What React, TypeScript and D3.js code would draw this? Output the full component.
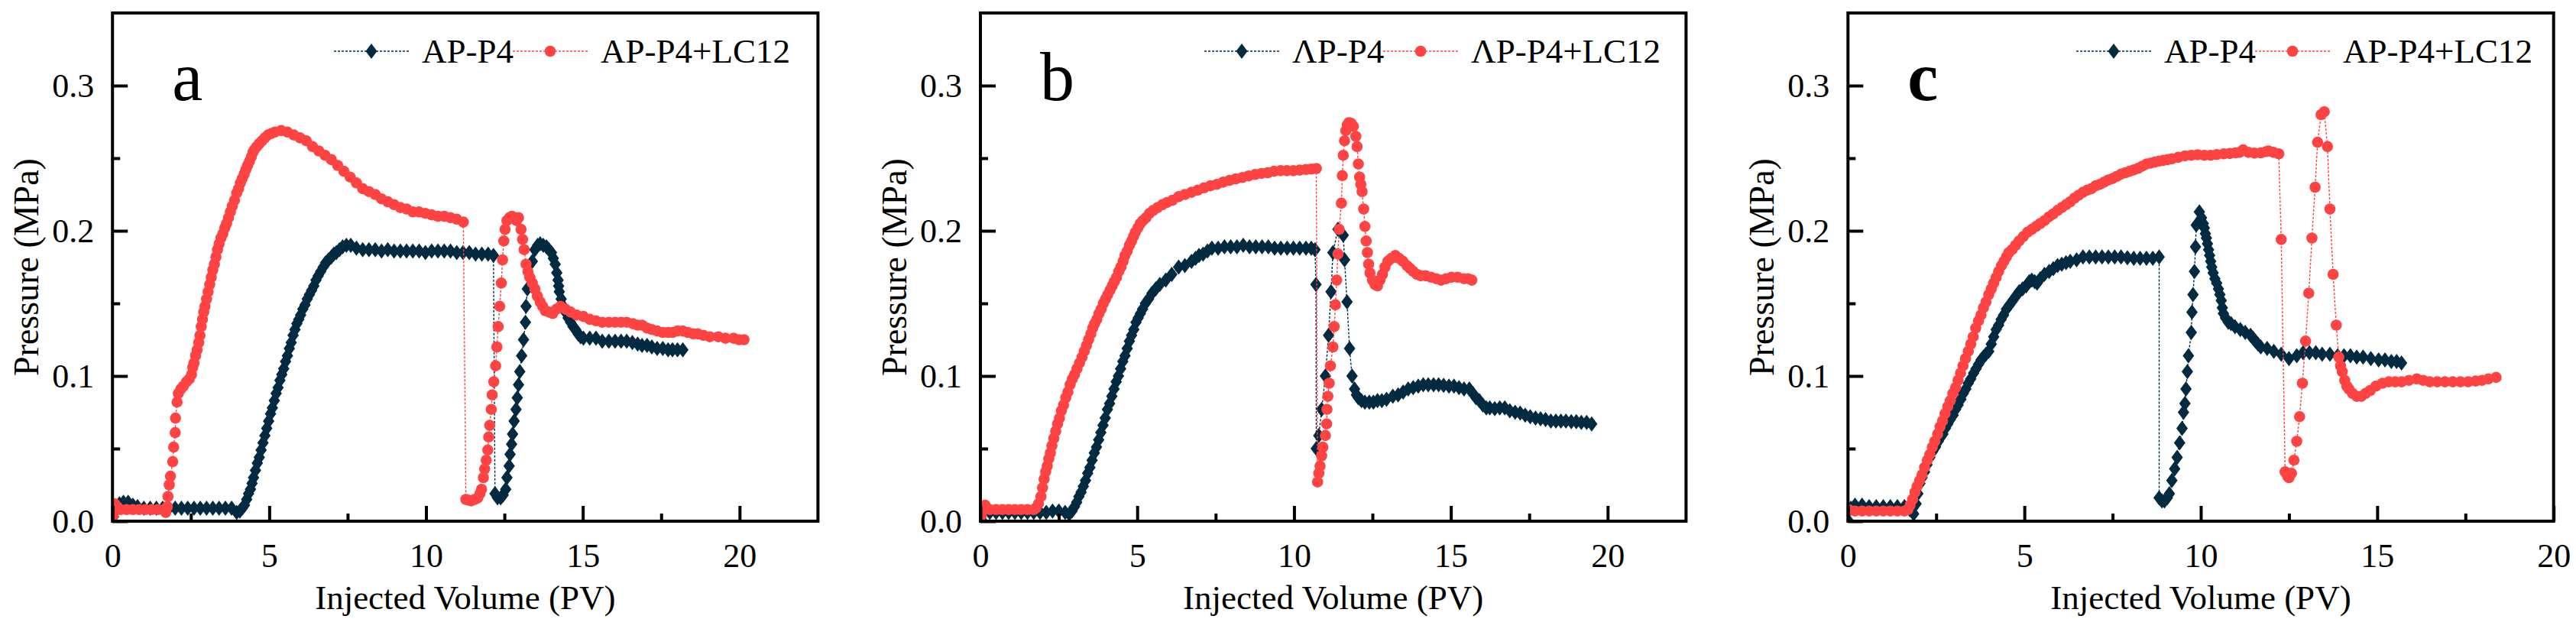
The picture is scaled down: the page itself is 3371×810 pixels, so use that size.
import React, { useEffect, useRef } from 'react';
import * as d3 from 'd3';

type Pt = [number, number];

// ---- panel a ----
const aP4: Pt[] = [
  [0.03, 0.003], [0.1, 0.01], [0.22, 0.012], [0.35, 0.013], [0.5, 0.013], [0.65, 0.011], [0.8, 0.01], [1.0, 0.009],
  [1.2, 0.009], [1.4, 0.009], [1.6, 0.009], [1.8, 0.009], [2.0, 0.009], [2.2, 0.009], [2.4, 0.009], [2.6, 0.009],
  [2.8, 0.009], [3.0, 0.009], [3.2, 0.009], [3.4, 0.009], [3.6, 0.009], [3.8, 0.009], [3.96, 0.006], [4.06, 0.007],
  [4.14, 0.009], [4.21, 0.011], [4.28, 0.015], [4.34, 0.019], [4.4, 0.022], [4.45, 0.026], [4.5, 0.03], [4.56, 0.035],
  [4.62, 0.04], [4.68, 0.044], [4.74, 0.049], [4.8, 0.054], [4.86, 0.059], [4.92, 0.064], [4.98, 0.069], [5.04, 0.074],
  [5.1, 0.078], [5.16, 0.083], [5.22, 0.088], [5.28, 0.092], [5.34, 0.097], [5.4, 0.101], [5.46, 0.105], [5.52, 0.11],
  [5.58, 0.114], [5.64, 0.119], [5.7, 0.123], [5.76, 0.128], [5.82, 0.132], [5.88, 0.136], [5.94, 0.139], [6.0, 0.142],
  [6.07, 0.146], [6.14, 0.149], [6.21, 0.153], [6.28, 0.156], [6.35, 0.159], [6.42, 0.162], [6.49, 0.166], [6.56, 0.169],
  [6.64, 0.172], [6.72, 0.175], [6.8, 0.178], [6.89, 0.18], [6.98, 0.182], [7.06, 0.184], [7.14, 0.185], [7.24, 0.187],
  [7.34, 0.189], [7.46, 0.19], [7.6, 0.19], [7.78, 0.188], [7.98, 0.187], [8.18, 0.187], [8.38, 0.187], [8.58, 0.186],
  [8.78, 0.187], [8.98, 0.186], [9.18, 0.186], [9.38, 0.186], [9.58, 0.186], [9.78, 0.186], [9.98, 0.185], [10.18, 0.186],
  [10.38, 0.186], [10.58, 0.186], [10.78, 0.186], [10.98, 0.185], [11.18, 0.185], [11.38, 0.185], [11.58, 0.184],
  [11.78, 0.184], [11.98, 0.184], [12.15, 0.183],
  [12.2, 0.019], [12.28, 0.016], [12.38, 0.016], [12.46, 0.018], [12.54, 0.022], [12.58, 0.03], [12.65, 0.038],
  [12.68, 0.046], [12.73, 0.053], [12.76, 0.06], [12.81, 0.069], [12.87, 0.077], [12.91, 0.085], [12.95, 0.094],
  [12.99, 0.103], [13.05, 0.114], [13.11, 0.125], [13.17, 0.137], [13.19, 0.148], [13.23, 0.16], [13.31, 0.168],
  [13.39, 0.179], [13.47, 0.187], [13.56, 0.19], [13.64, 0.191], [13.74, 0.19], [13.84, 0.189], [13.92, 0.187],
  [14.0, 0.185], [14.06, 0.181], [14.12, 0.177], [14.17, 0.171], [14.21, 0.166], [14.23, 0.162], [14.25, 0.158],
  [14.31, 0.153], [14.37, 0.148], [14.45, 0.144], [14.53, 0.14], [14.61, 0.137], [14.69, 0.134], [14.77, 0.132],
  [14.85, 0.129], [14.93, 0.127], [15.02, 0.126], [15.22, 0.126], [15.42, 0.126], [15.62, 0.124], [15.83, 0.124],
  [16.03, 0.124], [16.22, 0.124], [16.4, 0.124], [16.58, 0.123], [16.75, 0.122], [16.89, 0.121], [17.05, 0.121],
  [17.2, 0.12], [17.37, 0.119], [17.55, 0.119], [17.72, 0.118], [17.86, 0.118], [18.02, 0.118], [18.19, 0.118],
];

const aP4LC: Pt[] = [
  [0.02, 0.004], [0.07, 0.012], [0.15, 0.01], [0.25, 0.008], [0.45, 0.008], [0.65, 0.008], [0.85, 0.008], [1.05, 0.008],
  [1.25, 0.008], [1.45, 0.008], [1.65, 0.008], [1.7, 0.006], [1.75, 0.01], [1.77, 0.017], [1.81, 0.025], [1.85, 0.031],
  [1.92, 0.041], [1.95, 0.051], [2.0, 0.061], [2.01, 0.071], [2.06, 0.082], [2.1, 0.088], [2.18, 0.091], [2.26, 0.093],
  [2.36, 0.096], [2.45, 0.098], [2.52, 0.101], [2.56, 0.106], [2.6, 0.109], [2.65, 0.114], [2.7, 0.118], [2.75, 0.123],
  [2.79, 0.128], [2.83, 0.134], [2.87, 0.139], [2.91, 0.144], [2.95, 0.148], [3.0, 0.153], [3.05, 0.158], [3.1, 0.163],
  [3.15, 0.168], [3.2, 0.173], [3.25, 0.177], [3.3, 0.182], [3.35, 0.187], [3.4, 0.191], [3.46, 0.195], [3.52, 0.198],
  [3.58, 0.202], [3.64, 0.205], [3.7, 0.209], [3.76, 0.213], [3.82, 0.217], [3.89, 0.221], [3.96, 0.226], [4.02, 0.229],
  [4.08, 0.233], [4.14, 0.236], [4.2, 0.239], [4.25, 0.242], [4.31, 0.245], [4.37, 0.248], [4.43, 0.251], [4.48, 0.254],
  [4.53, 0.256], [4.6, 0.258], [4.68, 0.26], [4.77, 0.262], [4.86, 0.264], [4.96, 0.266], [5.07, 0.267], [5.18, 0.268],
  [5.38, 0.269], [5.58, 0.268], [5.78, 0.266], [5.98, 0.264], [6.18, 0.262], [6.38, 0.258], [6.58, 0.255], [6.78, 0.252],
  [6.98, 0.249], [7.18, 0.245], [7.38, 0.241], [7.58, 0.237], [7.78, 0.233], [7.98, 0.229], [8.18, 0.227], [8.38, 0.225],
  [8.58, 0.222], [8.78, 0.22], [8.98, 0.218], [9.18, 0.216], [9.38, 0.215], [9.58, 0.213], [9.78, 0.213], [9.98, 0.212],
  [10.18, 0.211], [10.38, 0.21], [10.58, 0.21], [10.78, 0.209], [10.98, 0.208], [11.19, 0.206],
  [11.27, 0.015], [11.35, 0.0145], [11.44, 0.014], [11.55, 0.015], [11.65, 0.016], [11.72, 0.019], [11.77, 0.022],
  [11.83, 0.03], [11.87, 0.036], [11.92, 0.042], [11.97, 0.049], [12.0, 0.058], [12.03, 0.066], [12.08, 0.077],
  [12.11, 0.087], [12.16, 0.096], [12.22, 0.107], [12.26, 0.12], [12.3, 0.134], [12.35, 0.148], [12.4, 0.164],
  [12.44, 0.18], [12.48, 0.193], [12.52, 0.201], [12.58, 0.207], [12.66, 0.209], [12.74, 0.21], [12.82, 0.209],
  [12.88, 0.207], [12.95, 0.209], [13.03, 0.201], [13.08, 0.194], [13.13, 0.187], [13.19, 0.177], [13.25, 0.172],
  [13.31, 0.168], [13.39, 0.164], [13.47, 0.16], [13.55, 0.155], [13.64, 0.151], [13.72, 0.148], [13.8, 0.145],
  [13.92, 0.144], [14.04, 0.143], [14.16, 0.146], [14.29, 0.148], [14.45, 0.146], [14.61, 0.144], [14.8, 0.142],
  [15.02, 0.141], [15.22, 0.139], [15.42, 0.138], [15.62, 0.137], [15.83, 0.137], [16.03, 0.137], [16.22, 0.137],
  [16.4, 0.137], [16.6, 0.136], [16.75, 0.135], [16.89, 0.135], [17.05, 0.133], [17.2, 0.132], [17.37, 0.131],
  [17.55, 0.13], [17.72, 0.13], [17.86, 0.13], [18.02, 0.131], [18.19, 0.131], [18.35, 0.13], [18.52, 0.129],
  [18.67, 0.129], [18.85, 0.128], [19.05, 0.127], [19.32, 0.127], [19.55, 0.126], [19.81, 0.126], [19.98, 0.125],
  [20.14, 0.125],
];

// ---- panel b ----
const bP4: Pt[] = [
  [0.03, 0.001], [0.1, 0.006], [0.3, 0.006], [0.5, 0.006], [0.7, 0.006], [0.9, 0.006], [1.1, 0.006], [1.3, 0.006],
  [1.5, 0.006], [1.7, 0.006], [1.9, 0.006], [2.1, 0.006], [2.3, 0.007], [2.5, 0.007], [2.7, 0.006], [2.83, 0.005],
  [2.92, 0.007], [3.0, 0.01], [3.07, 0.013], [3.14, 0.017], [3.21, 0.02], [3.28, 0.024], [3.35, 0.028], [3.42, 0.033],
  [3.49, 0.037], [3.56, 0.042], [3.63, 0.047], [3.7, 0.051], [3.77, 0.056], [3.84, 0.061], [3.91, 0.066], [3.98, 0.071],
  [4.05, 0.077], [4.12, 0.081], [4.19, 0.086], [4.26, 0.091], [4.33, 0.096], [4.4, 0.1], [4.47, 0.105], [4.54, 0.11],
  [4.61, 0.114], [4.68, 0.119], [4.75, 0.124], [4.82, 0.128], [4.89, 0.132], [4.96, 0.137], [5.03, 0.14], [5.1, 0.143],
  [5.17, 0.146], [5.26, 0.15], [5.36, 0.153], [5.47, 0.157], [5.59, 0.16], [5.72, 0.163], [5.91, 0.166], [6.1, 0.17],
  [6.32, 0.175], [6.52, 0.176], [6.73, 0.179], [6.86, 0.181], [6.97, 0.183], [7.1, 0.184], [7.24, 0.186], [7.38, 0.188],
  [7.58, 0.188], [7.78, 0.189], [7.98, 0.189], [8.18, 0.189], [8.38, 0.19], [8.58, 0.189], [8.78, 0.189], [8.98, 0.189],
  [9.18, 0.189], [9.38, 0.188], [9.58, 0.188], [9.78, 0.188], [9.98, 0.188], [10.18, 0.188], [10.38, 0.188],
  [10.55, 0.188], [10.67, 0.187],
  [10.7, 0.163], [10.71, 0.05], [10.79, 0.059], [10.88, 0.077], [11.0, 0.1], [11.1, 0.128], [11.18, 0.158],
  [11.24, 0.185], [11.4, 0.201], [11.57, 0.197], [11.61, 0.18], [11.69, 0.151], [11.77, 0.119], [11.85, 0.1],
  [11.93, 0.091], [11.99, 0.087], [12.05, 0.085], [12.15, 0.083], [12.26, 0.082], [12.4, 0.082], [12.53, 0.082],
  [12.66, 0.083], [12.8, 0.083], [12.95, 0.084], [13.15, 0.086], [13.32, 0.087], [13.48, 0.089], [13.64, 0.091],
  [13.8, 0.092], [13.96, 0.093], [14.12, 0.094], [14.28, 0.094], [14.45, 0.094], [14.61, 0.094], [14.77, 0.0935],
  [14.94, 0.093], [15.1, 0.093], [15.26, 0.092], [15.42, 0.091], [15.59, 0.091], [15.7, 0.088], [15.8, 0.085],
  [15.91, 0.083], [16.02, 0.08], [16.13, 0.078], [16.24, 0.078], [16.4, 0.0775], [16.56, 0.078], [16.72, 0.078],
  [16.88, 0.076], [17.05, 0.075], [17.21, 0.0745], [17.37, 0.073], [17.53, 0.072], [17.7, 0.071], [17.86, 0.0705],
  [18.02, 0.07], [18.19, 0.069], [18.35, 0.069], [18.51, 0.069], [18.67, 0.069], [18.84, 0.0686], [19.0, 0.0685],
  [19.16, 0.068], [19.33, 0.068], [19.49, 0.067],
];

const bP4LC: Pt[] = [
  [0.03, 0.004], [0.08, 0.01], [0.15, 0.011], [0.3, 0.008], [0.5, 0.008], [0.7, 0.008], [0.9, 0.008], [1.1, 0.008],
  [1.3, 0.008], [1.5, 0.008], [1.7, 0.008], [1.77, 0.009], [1.85, 0.012], [1.93, 0.017], [1.98, 0.023], [2.03, 0.029],
  [2.08, 0.034], [2.13, 0.038], [2.18, 0.043], [2.23, 0.047], [2.28, 0.052], [2.34, 0.057], [2.4, 0.062], [2.46, 0.067],
  [2.52, 0.071], [2.58, 0.076], [2.65, 0.08], [2.72, 0.085], [2.79, 0.089], [2.86, 0.094], [2.93, 0.098], [3.0, 0.101],
  [3.08, 0.105], [3.16, 0.109], [3.24, 0.113], [3.31, 0.117], [3.38, 0.121], [3.45, 0.125], [3.52, 0.129], [3.58, 0.133],
  [3.64, 0.136], [3.71, 0.139], [3.78, 0.143], [3.85, 0.146], [3.92, 0.15], [3.99, 0.153], [4.06, 0.156], [4.13, 0.159],
  [4.2, 0.162], [4.27, 0.165], [4.34, 0.168], [4.41, 0.172], [4.48, 0.175], [4.55, 0.179], [4.61, 0.183], [4.68, 0.186],
  [4.75, 0.19], [4.82, 0.193], [4.88, 0.196], [4.94, 0.199], [5.02, 0.202], [5.1, 0.205], [5.18, 0.207], [5.28, 0.209],
  [5.39, 0.212], [5.51, 0.214], [5.65, 0.216], [5.8, 0.218], [5.95, 0.2195], [6.12, 0.221], [6.32, 0.2235],
  [6.52, 0.225], [6.73, 0.2265], [6.93, 0.228], [7.13, 0.2296], [7.33, 0.231], [7.54, 0.232], [7.74, 0.2335],
  [7.94, 0.2347], [8.14, 0.2357], [8.35, 0.2367], [8.55, 0.2378], [8.76, 0.2388], [8.96, 0.2395], [9.16, 0.24],
  [9.36, 0.241], [9.57, 0.2414], [9.77, 0.2414], [9.98, 0.2414], [10.18, 0.2418], [10.38, 0.2422], [10.55, 0.2425],
  [10.71, 0.2429],
  [10.75, 0.027], [10.79, 0.033], [10.83, 0.038], [10.88, 0.045], [10.92, 0.051], [11.0, 0.059], [11.04, 0.067],
  [11.05, 0.077], [11.08, 0.086], [11.12, 0.095], [11.16, 0.107], [11.24, 0.12], [11.28, 0.134], [11.32, 0.149],
  [11.36, 0.166], [11.4, 0.184], [11.44, 0.201], [11.51, 0.219], [11.54, 0.238], [11.57, 0.252], [11.61, 0.262],
  [11.65, 0.269], [11.7, 0.273], [11.75, 0.2745], [11.82, 0.274], [11.89, 0.272], [11.97, 0.265], [12.01, 0.258],
  [12.05, 0.246], [12.09, 0.237], [12.13, 0.232], [12.17, 0.227], [12.22, 0.215], [12.26, 0.203], [12.3, 0.193],
  [12.34, 0.185], [12.38, 0.177], [12.42, 0.171], [12.5, 0.166], [12.58, 0.163], [12.66, 0.162], [12.74, 0.166],
  [12.82, 0.17], [12.9, 0.175], [12.99, 0.179], [13.1, 0.181], [13.23, 0.183], [13.35, 0.181], [13.47, 0.179],
  [13.6, 0.176], [13.7, 0.174], [13.8, 0.172], [13.92, 0.17], [14.04, 0.169], [14.2, 0.169], [14.37, 0.168],
  [14.53, 0.167], [14.69, 0.166], [14.85, 0.167], [15.02, 0.168], [15.22, 0.168], [15.42, 0.167], [15.55, 0.167],
  [15.67, 0.166],
];

// ---- panel c ----
const cP4: Pt[] = [
  [0.02, 0.0], [0.08, 0.009], [0.2, 0.011], [0.4, 0.011], [0.6, 0.01], [0.8, 0.01], [1.0, 0.01], [1.2, 0.01],
  [1.4, 0.01], [1.6, 0.01], [1.75, 0.008], [1.86, 0.005], [1.93, 0.012], [1.98, 0.019], [2.04, 0.026], [2.1, 0.03],
  [2.17, 0.034], [2.24, 0.039], [2.32, 0.044], [2.4, 0.048], [2.48, 0.051], [2.56, 0.055], [2.63, 0.058], [2.69, 0.06],
  [2.76, 0.064], [2.83, 0.067], [2.9, 0.07], [2.98, 0.073], [3.05, 0.077], [3.12, 0.08], [3.2, 0.084], [3.27, 0.088],
  [3.34, 0.091], [3.41, 0.095], [3.48, 0.098], [3.56, 0.102], [3.63, 0.105], [3.7, 0.108], [3.77, 0.111], [3.84, 0.113],
  [3.91, 0.115], [3.99, 0.117], [4.06, 0.122], [4.13, 0.127], [4.2, 0.132], [4.27, 0.135], [4.34, 0.139], [4.41, 0.142],
  [4.49, 0.146], [4.58, 0.149], [4.67, 0.152], [4.76, 0.155], [4.85, 0.158], [4.95, 0.16], [5.05, 0.162], [5.14, 0.165],
  [5.21, 0.166], [5.29, 0.165], [5.36, 0.164], [5.45, 0.167], [5.57, 0.17], [5.7, 0.172], [5.82, 0.174], [5.94, 0.176],
  [6.06, 0.177], [6.18, 0.178], [6.3, 0.179], [6.48, 0.18], [6.66, 0.182], [6.84, 0.182], [7.02, 0.182], [7.2, 0.182],
  [7.38, 0.182], [7.56, 0.182], [7.74, 0.182], [7.92, 0.1815], [8.1, 0.181], [8.28, 0.181], [8.46, 0.181], [8.64, 0.181],
  [8.82, 0.182],
  [8.82, 0.016], [8.9, 0.014], [8.97, 0.014], [9.05, 0.016], [9.11, 0.019], [9.18, 0.028], [9.26, 0.036], [9.33, 0.044],
  [9.4, 0.054], [9.47, 0.064], [9.51, 0.075], [9.55, 0.081], [9.58, 0.091], [9.62, 0.103], [9.65, 0.114], [9.73, 0.13],
  [9.75, 0.144], [9.78, 0.156], [9.82, 0.172], [9.85, 0.189], [9.87, 0.204], [9.96, 0.213], [10.02, 0.209],
  [10.07, 0.205], [10.1, 0.202], [10.13, 0.198], [10.16, 0.195], [10.19, 0.191], [10.22, 0.187], [10.25, 0.183],
  [10.28, 0.179], [10.31, 0.175], [10.35, 0.171], [10.4, 0.167], [10.45, 0.164], [10.5, 0.16], [10.54, 0.156],
  [10.58, 0.152], [10.61, 0.147], [10.64, 0.143], [10.7, 0.14], [10.78, 0.137], [10.86, 0.136], [10.97, 0.134],
  [11.12, 0.132], [11.26, 0.13], [11.41, 0.128], [11.48, 0.126], [11.55, 0.124], [11.62, 0.122], [11.7, 0.12],
  [11.88, 0.119], [12.07, 0.117], [12.28, 0.115], [12.5, 0.112], [12.72, 0.114], [12.9, 0.116], [13.08, 0.116],
  [13.26, 0.116], [13.44, 0.115], [13.66, 0.115], [13.88, 0.114], [14.06, 0.114], [14.24, 0.114], [14.42, 0.113],
  [14.6, 0.113], [14.82, 0.112], [15.04, 0.111], [15.22, 0.111], [15.4, 0.11], [15.55, 0.11], [15.69, 0.109],
];

const cP4LC: Pt[] = [
  [0.02, 0.008], [0.2, 0.007], [0.4, 0.007], [0.6, 0.007], [0.8, 0.007], [1.0, 0.007], [1.2, 0.007], [1.4, 0.007],
  [1.6, 0.007], [1.7, 0.008], [1.76, 0.011], [1.83, 0.015], [1.9, 0.02], [1.96, 0.024], [2.03, 0.028], [2.1, 0.032],
  [2.17, 0.037], [2.25, 0.042], [2.32, 0.046], [2.39, 0.051], [2.46, 0.055], [2.54, 0.06], [2.61, 0.065], [2.68, 0.069],
  [2.75, 0.074], [2.83, 0.079], [2.9, 0.083], [2.97, 0.088], [3.05, 0.092], [3.12, 0.097], [3.19, 0.102], [3.26, 0.107],
  [3.33, 0.112], [3.41, 0.117], [3.48, 0.122], [3.55, 0.127], [3.62, 0.133], [3.7, 0.138], [3.77, 0.142], [3.84, 0.147],
  [3.91, 0.151], [3.99, 0.156], [4.06, 0.16], [4.13, 0.164], [4.2, 0.168], [4.27, 0.172], [4.35, 0.176], [4.42, 0.179],
  [4.49, 0.182], [4.56, 0.185], [4.65, 0.187], [4.75, 0.19], [4.85, 0.193], [4.97, 0.196], [5.09, 0.199], [5.21, 0.201],
  [5.33, 0.203], [5.45, 0.205], [5.57, 0.207], [5.69, 0.2095], [5.81, 0.2115], [5.94, 0.214], [6.06, 0.216],
  [6.18, 0.218], [6.3, 0.22], [6.42, 0.2225], [6.54, 0.2245], [6.66, 0.2265], [6.78, 0.228], [6.9, 0.229], [7.02, 0.231],
  [7.14, 0.232], [7.26, 0.2335], [7.38, 0.235], [7.5, 0.236], [7.62, 0.2375], [7.74, 0.239], [7.86, 0.24], [7.98, 0.241],
  [8.1, 0.242], [8.22, 0.243], [8.34, 0.2445], [8.46, 0.246], [8.58, 0.2466], [8.7, 0.2473], [8.82, 0.248],
  [8.94, 0.2485], [9.06, 0.249], [9.18, 0.2496], [9.36, 0.2506], [9.55, 0.2516], [9.73, 0.252], [9.91, 0.2524],
  [10.1, 0.252], [10.28, 0.252], [10.45, 0.2525], [10.65, 0.253], [10.82, 0.2532], [10.98, 0.2537], [11.1, 0.254],
  [11.2, 0.2557], [11.35, 0.254], [11.52, 0.2535], [11.7, 0.2537], [11.85, 0.2545], [11.92, 0.255], [12.06, 0.254],
  [12.21, 0.253],
  [12.28, 0.194], [12.39, 0.034], [12.46, 0.031], [12.5, 0.03], [12.57, 0.033], [12.64, 0.042], [12.72, 0.055],
  [12.8, 0.072], [12.88, 0.095], [12.97, 0.124], [13.06, 0.157], [13.15, 0.195], [13.24, 0.23], [13.31, 0.261],
  [13.41, 0.28], [13.5, 0.282], [13.59, 0.258], [13.66, 0.215], [13.75, 0.17], [13.84, 0.135], [13.91, 0.113],
  [13.96, 0.107], [14.01, 0.103], [14.08, 0.097], [14.14, 0.093], [14.2, 0.091], [14.3, 0.088], [14.42, 0.086],
  [14.55, 0.086], [14.67, 0.088], [14.8, 0.09], [14.96, 0.093], [15.15, 0.095], [15.33, 0.096], [15.51, 0.096],
  [15.69, 0.096], [15.9, 0.097], [16.12, 0.098], [16.3, 0.097], [16.49, 0.096], [16.7, 0.096], [16.92, 0.096],
  [17.14, 0.096], [17.36, 0.096], [17.58, 0.096], [17.79, 0.0965], [17.97, 0.097], [18.15, 0.098], [18.37, 0.099],
];

const panelLetters = ['a', 'b', 'c'];
const legendLabels = [
  ['AP-P4', 'AP-P4+LC12'],
  ['ΛP-P4', 'ΛP-P4+LC12'],
  ['AP-P4', 'AP-P4+LC12'],
];
const xMaxes = [22.5, 22.5, 20];
const xMajor = [0, 5, 10, 15, 20];
const xMinor = [2.5, 7.5, 12.5, 17.5];
const yMajor = [0, 0.1, 0.2, 0.3];
const yMinor = [0.05, 0.15, 0.25];
const xTitle = 'Injected Volume (PV)';
const yTitle = 'Pressure (MPa)';

const W = 3371;
const H = 810;
const TOP = 17;
const BOTTOM = 682;
const layout = [
  { left: 147.2, right: 1070.4, legendX: 437 },
  { left: 1283, right: 2206.4, legendX: 1576 },
  { left: 2418.3, right: 3341.7, legendX: 2717 },
];
const DARK = '#022b42';
const RED = '#ff4343';
const FONT = '"Liberation Serif", "Times New Roman", serif';
const DIAMOND = 'M0,-10L7.5,0L0,10L-7.5,0Z';
const R = 7.3;

export default () => {
  const svgRef = useRef<SVGSVGElement>(null);

  useEffect(() => {
    if (!svgRef.current) {
      return;
    }
    const svg = d3.select(svgRef.current);
    svg.selectAll('*').remove();
    const allData = [[aP4, aP4LC], [bP4, bP4LC], [cP4, cP4LC]];

    const styleAxis = (sel: any) => {
      sel.select('.domain').remove();
      sel.selectAll('line').attr('stroke', '#000').attr('stroke-width', 4);
      sel.selectAll('text').attr('font-family', FONT).attr('font-size', 44).attr('fill', '#000');
    };

    layout.forEach((p, i) => {
      const x = d3.scaleLinear().domain([0, xMaxes[i]]).range([p.left, p.right]);
      const y = d3.scaleLinear().domain([0, 0.35]).range([BOTTOM, TOP]);
      const g = svg.append('g');

      const clipId = `plot-clip-${i}`;
      g.append('clipPath').attr('id', clipId).append('rect')
        .attr('x', p.left).attr('y', TOP)
        .attr('width', p.right - p.left).attr('height', BOTTOM - TOP);
      const plot = g.append('g').attr('clip-path', `url(#${clipId})`);
      const line = d3.line<Pt>().x(d => x(d[0])).y(d => y(d[1]));
      const [dark, red] = allData[i];

      // AP-P4: diamonds + dotted line
      plot.append('path').datum(dark).attr('d', line)
        .attr('fill', 'none').attr('stroke', DARK).attr('stroke-width', 1.4).attr('stroke-dasharray', '3,2');
      plot.append('g').selectAll('path').data(dark).join('path')
        .attr('d', DIAMOND)
        .attr('transform', d => `translate(${x(d[0])},${y(d[1])})`)
        .attr('fill', DARK);

      // AP-P4+LC12: circles + dotted line
      plot.append('path').datum(red).attr('d', line)
        .attr('fill', 'none').attr('stroke', RED).attr('stroke-width', 1.4).attr('stroke-dasharray', '3,2');
      plot.append('g').selectAll('circle').data(red).join('circle')
        .attr('cx', d => x(d[0])).attr('cy', d => y(d[1])).attr('r', R)
        .attr('fill', RED);

      // axes, ticks inward
      g.append('g').attr('transform', `translate(0,${BOTTOM})`)
        .call(d3.axisBottom(x).tickValues(xMajor).tickSize(-20).tickPadding(29).tickFormat(d3.format('d')))
        .call(styleAxis);
      g.append('g').attr('transform', `translate(0,${BOTTOM})`)
        .call(d3.axisBottom(x).tickValues(xMinor).tickSize(-10).tickFormat(() => ''))
        .call(styleAxis);
      g.append('g').attr('transform', `translate(${p.left},0)`)
        .call(d3.axisLeft(y).tickValues(yMajor).tickSize(-20).tickPadding(24).tickFormat(d3.format('.1f')))
        .call(styleAxis);
      g.append('g').attr('transform', `translate(${p.left},0)`)
        .call(d3.axisLeft(y).tickValues(yMinor).tickSize(-10).tickFormat(() => ''))
        .call(styleAxis);

      g.append('rect')
        .attr('x', p.left).attr('y', TOP)
        .attr('width', p.right - p.left).attr('height', BOTTOM - TOP)
        .attr('fill', 'none').attr('stroke', '#000').attr('stroke-width', 4);

      // titles
      g.append('text')
        .attr('x', (p.left + p.right) / 2).attr('y', 797)
        .attr('text-anchor', 'middle')
        .attr('font-family', FONT).attr('font-size', 45)
        .text(xTitle);
      g.append('text')
        .attr('transform', `translate(${p.left - 97},${(TOP + BOTTOM) / 2}) rotate(-90)`)
        .attr('text-anchor', 'middle')
        .attr('font-family', FONT).attr('font-size', 46)
        .text(yTitle);

      // panel letter
      g.append('text')
        .attr('x', p.left + 78).attr('y', 131)
        .attr('font-family', FONT).attr('font-size', 90)
        .attr('font-weight', i === 2 ? 'bold' : 'normal')
        .text(panelLetters[i]);

      // legend
      legendLabels[i].forEach((label, k) => {
        const sx = p.legendX + k * 234;
        const color = k === 0 ? DARK : RED;
        g.append('line')
          .attr('x1', sx).attr('x2', sx + 98).attr('y1', 67).attr('y2', 67)
          .attr('stroke', color).attr('stroke-width', 1.4).attr('stroke-dasharray', '3,2');
        if (k === 0) {
          g.append('path').attr('d', DIAMOND).attr('transform', `translate(${sx + 49},67)`).attr('fill', color);
        } else {
          g.append('circle').attr('cx', sx + 49).attr('cy', 67).attr('r', R).attr('fill', color);
        }
        g.append('text')
          .attr('x', sx + 115).attr('y', 82)
          .attr('font-family', FONT).attr('font-size', 45)
          .text(label);
      });
    });
  }, []);

  return (
    <svg
      ref={svgRef}
      width={W}
      height={H}
      style={{ position: 'absolute', left: 0, top: 0, background: '#fff' }}
    />
  );
};
